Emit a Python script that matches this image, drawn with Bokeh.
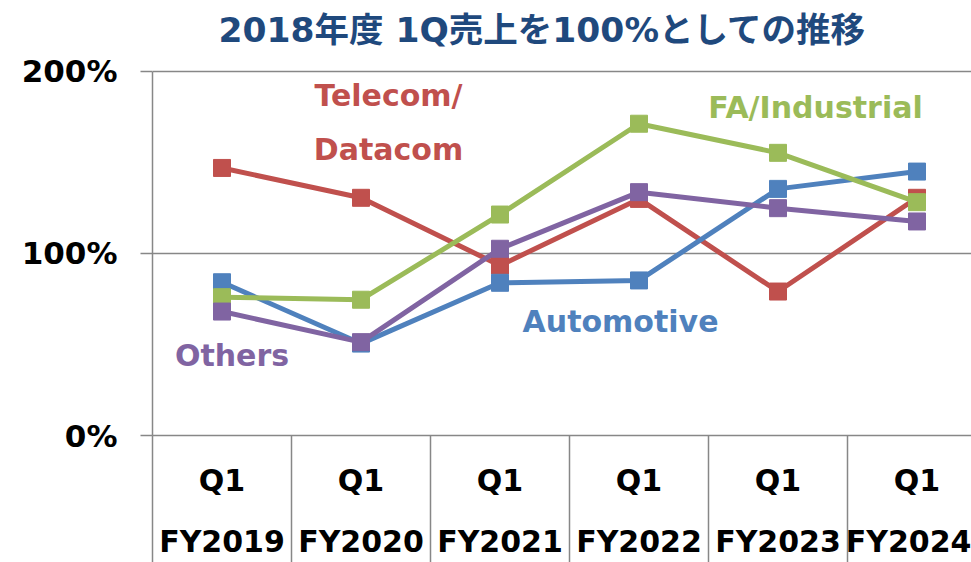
from bokeh.plotting import figure
from bokeh.models import Range1d, FixedTicker, LinearAxis, Label
from bokeh.embed import file_html
from bokeh.resources import INLINE

# ---- data ----
fiscal_years = ["FY2019", "FY2020", "FY2021", "FY2022", "FY2023", "FY2024"]
quarters = ["Q1", "Q1", "Q1", "Q1", "Q1", "Q1"]
x_pos = [0, 1, 2, 3, 4, 5]
separators = [-0.5, 0.5, 1.5, 2.5, 3.5, 4.5]

telecom = [147.0, 130.6, 93.4, 130.0, 79.1, 130.6]
automotive = [84.2, 50.5, 83.9, 85.2, 135.5, 145.0]
fa_industrial = [76.0, 74.6, 121.4, 171.3, 155.3, 128.2]
others = [68.1, 51.3, 102.6, 133.7, 124.9, 117.6]

y_ticks = [0, 100, 200]
y_tick_labels = ["0%", "100%", "200%"]

title_text = "2018年度 1Q売上を100%としての推移"

RED = "#C0504D"
BLUE = "#4F81BD"
GREEN = "#9BBB59"
PURPLE = "#8064A2"
GRAY = "#878787"
FONT = "DejaVu Sans"

# frame spans y = 0..435 px of the canvas; 0%..200% occupies its lower 364 px
p = figure(width=971, height=562, output_backend="svg", toolbar_location=None,
           x_range=Range1d(-0.5, 5.392), y_range=Range1d(0, 239.0),
           min_border_left=152, min_border_right=0, min_border_top=0,
           min_border_bottom=127)
p.outline_line_color = None
p.background_fill_color = "white"
p.border_fill_color = "white"

# grid
p.xgrid.visible = False
p.ygrid.ticker = FixedTicker(ticks=y_ticks)
p.ygrid.grid_line_color = GRAY
p.ygrid.grid_line_width = 1.5

# y axis
yax = p.yaxis[0]
yax.bounds = (0, 200)
yax.ticker = FixedTicker(ticks=y_ticks)
yax.major_label_overrides = {t: l for t, l in zip(y_ticks, y_tick_labels)}
yax.axis_line_color = GRAY
yax.axis_line_width = 1.5
yax.major_tick_line_color = GRAY
yax.major_tick_line_width = 1.5
yax.major_tick_out = 12
yax.major_tick_in = 0
yax.minor_tick_line_color = None
yax.major_label_standoff = 23
yax.major_label_text_font = FONT
yax.major_label_text_font_style = "bold"
yax.major_label_text_font_size = "31px"
yax.major_label_text_color = "black"

# x axis, level 1 (Q1) with separators drawn as long minor ticks
xax = p.xaxis[0]
xax.ticker = FixedTicker(ticks=x_pos, minor_ticks=separators)
xax.major_label_overrides = {t: l for t, l in zip(x_pos, quarters)}
xax.axis_line_color = GRAY
xax.axis_line_width = 1.5
xax.major_tick_line_color = None
xax.major_tick_out = 0
xax.major_tick_in = 0
xax.minor_tick_line_color = GRAY
xax.minor_tick_line_width = 1.5
xax.minor_tick_out = 127
xax.minor_tick_in = 0
xax.major_label_standoff = -100
xax.major_label_text_font = FONT
xax.major_label_text_font_style = "bold"
xax.major_label_text_font_size = "30px"
xax.major_label_text_color = "black"

# x axis, level 2 (fiscal year)
xax2 = LinearAxis(ticker=FixedTicker(ticks=x_pos, minor_ticks=[]),
                  major_label_overrides={t: l for t, l in zip(x_pos, fiscal_years)})
xax2.axis_line_color = None
xax2.major_tick_line_color = None
xax2.minor_tick_line_color = None
xax2.major_tick_out = 0
xax2.major_tick_in = 0
xax2.major_label_standoff = 23
xax2.major_label_text_font = FONT
xax2.major_label_text_font_style = "bold"
xax2.major_label_text_font_size = "30px"
xax2.major_label_text_color = "black"
p.add_layout(xax2, "below")

# series
for vals, col in [(telecom, RED), (automotive, BLUE), (fa_industrial, GREEN), (others, PURPLE)]:
    p.line(x_pos, vals, line_width=5, line_color=col)
    p.scatter(x_pos, vals, marker="square", size=17, fill_color=col, line_color=col)

# series name labels
labels = [
    ("Telecom/", 1.198, 186.8, RED),
    ("Datacom", 1.198, 157.1, RED),
    ("FA/Industrial", 4.27, 180.2, GREEN),
    ("Automotive", 2.867, 62.6, BLUE),
    ("Others", 0.072, 43.9, PURPLE),
]
for txt, lx, ly, col in labels:
    p.add_layout(Label(x=lx, y=ly, text=txt, text_font=FONT, text_font_style="bold",
                       text_font_size="30px", text_color=col, text_align="center",
                       text_baseline="alphabetic"))

# chart title (screen units relative to the plot frame's lower-left corner)
p.add_layout(Label(x=66, y=406, x_units="screen", y_units="screen", text=title_text,
                   text_font="DejaVu Sans, Noto Sans CJK JP", text_font_style="bold",
                   text_font_size="34.5px", text_color="#1F497D", text_align="left",
                   text_baseline="alphabetic"))

open("out.html", "w").write(file_html(p, INLINE))
